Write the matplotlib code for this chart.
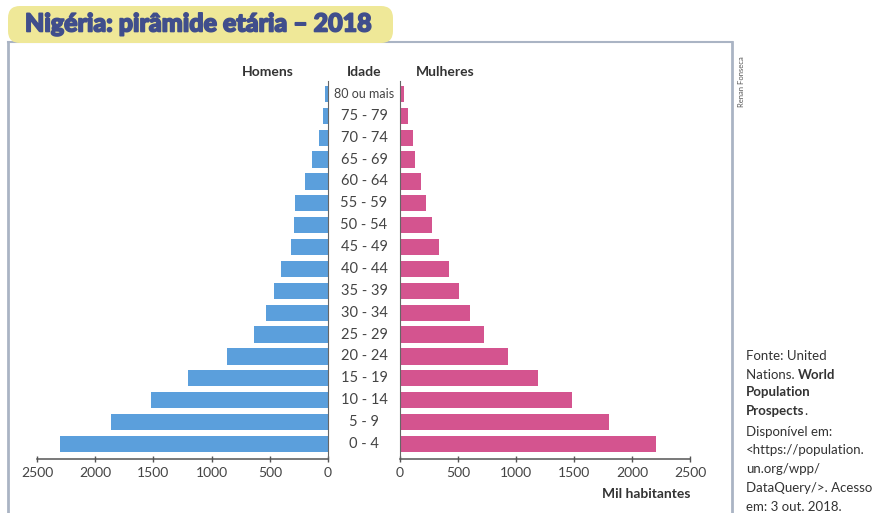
import matplotlib.pyplot as plt
import matplotlib.patheffects as pe
from matplotlib.patches import FancyBboxPatch
from matplotlib.transforms import IdentityTransform, blended_transform_factory

# dados (mil habitantes)
idades = ['0 - 4', '5 - 9', '10 - 14', '15 - 19', '20 - 24', '25 - 29', '30 - 34',
          '35 - 39', '40 - 44', '45 - 49', '50 - 54', '55 - 59', '60 - 64',
          '65 - 69', '70 - 74', '75 - 79', '80 ou mais']
homens = [2300, 1860, 1520, 1200, 870, 635, 535, 465, 400, 320, 295, 280, 200, 135, 80, 45, 22]
mulheres = [2210, 1800, 1480, 1190, 935, 725, 605, 510, 420, 340, 280, 225, 180, 130, 110, 65, 35]
ticks = [0, 500, 1000, 1500, 2000, 2500]

azul = '#5b9fdc'
rosa = '#d4548f'
cinza_txt = '#444444'
plt.rcParams['font.family'] = ['Lato', 'DejaVu Sans']

W, H = 893, 513
fig = plt.figure(figsize=(W / 100, H / 100), dpi=100)

def px(x0, y0, x1, y1):
    # retangulo em pixels (origem no topo) -> coords da figura
    return [x0 / W, 1 - y1 / H, (x1 - x0) / W, (y1 - y0) / H]

# eixo de fundo para textos soltos
bg = fig.add_axes([0, 0, 1, 1])
bg.set_xlim(0, W)
bg.set_ylim(H, 0)
bg.axis('off')

ax_h = fig.add_axes(px(37, 81, 328, 459))
ax_m = fig.add_axes(px(400, 81, 690, 459))

y = list(range(len(idades)))
ax_h.barh(y, homens, height=0.74, color=azul)
ax_m.barh(y, mulheres, height=0.74, color=rosa)

ax_h.set_xlim(2500, 0)
ax_m.set_xlim(0, 2500)
for ax in (ax_h, ax_m):
    ax.set_ylim(-0.69, len(idades) - 0.41)
    ax.set_yticks([])
    ax.set_xticks(ticks)
    ax.set_xticklabels([str(t) for t in ticks])
    ax.tick_params(axis='x', direction='inout', length=5, width=1, color='#555555',
                   labelsize=10, labelcolor=cinza_txt, pad=3)
    ax.spines['top'].set_visible(False)
    ax.spines['bottom'].set_color('#555555')
    ax.spines['bottom'].set_linewidth(1.1)
ax_h.spines['left'].set_visible(False)
ax_h.spines['right'].set_color('#666666')
ax_m.spines['right'].set_visible(False)
ax_m.spines['left'].set_color('#666666')

# rotulos de idade no meio
tr = blended_transform_factory(fig.transFigure, ax_h.transData)
for i, lab in enumerate(idades):
    fs = 9 if lab == '80 ou mais' else 10.5
    ax_h.text(364 / W, i, lab, transform=tr, ha='center', va='center',
              fontsize=fs, color=cinza_txt, clip_on=False)

bg.text(268, 72, 'Homens', ha='center', va='center', fontsize=10, fontweight='bold', color='#333333')
bg.text(364, 72, 'Idade', ha='center', va='center', fontsize=10, fontweight='bold', color='#333333')
bg.text(445, 72, 'Mulheres', ha='center', va='center', fontsize=10, fontweight='bold', color='#333333')
bg.text(690, 494, 'Mil habitantes', ha='right', va='center', fontsize=10, fontweight='bold',
        color='#333333')

# moldura
moldura = '#aab4c4'
bg.plot([8, 8], [42, H], color=moldura, lw=2)
bg.plot([8, 732], [42, 42], color=moldura, lw=1.5)
bg.plot([732, 732], [42, H], color=moldura, lw=2)

# caixa do titulo
caixa = FancyBboxPatch((8, H - 43), 385, 37, boxstyle='round,pad=0,rounding_size=12',
                       transform=IdentityTransform(), facecolor='#efe898',
                       edgecolor='none')
fig.add_artist(caixa)
fig.text(25 / W, 1 - 24 / H, 'Nigéria: pirâmide etária – 2018', ha='left', va='center',
         fontsize=18, fontweight='black', color='#404e8c',
         path_effects=[pe.withStroke(linewidth=1.2, foreground='#404e8c')])

bg.text(741, 82, 'Renan Fonseca', rotation=90, ha='center', va='center',
        fontsize=5.5, color='#555555')

# fonte
linhas = [('Fonte: United', '', ''), ('Nations. ', 'World', ''), ('', 'Population', ''),
          ('', 'Prospects', '.'), ('Disponível em:', '', ''), ('<https://population.', '', ''),
          ('un.org/wpp/', '', ''), ('DataQuery/>. Acesso', '', ''), ('em: 3 out. 2018.', '', '')]
for k, (a, b, c) in enumerate(linhas):
    yy = 360 + k * 18.9
    t = bg.text(746, yy, a, fontsize=9.5, color='#333333', va='baseline')
    t = bg.annotate(b, xy=(1, 0), xycoords=t, fontsize=9.5, fontweight='bold',
                    color='#333333', va='bottom')
    bg.annotate(c, xy=(1, 0), xycoords=t, fontsize=9.5, color='#333333', va='bottom')

fig.savefig('out.png', dpi=100)
